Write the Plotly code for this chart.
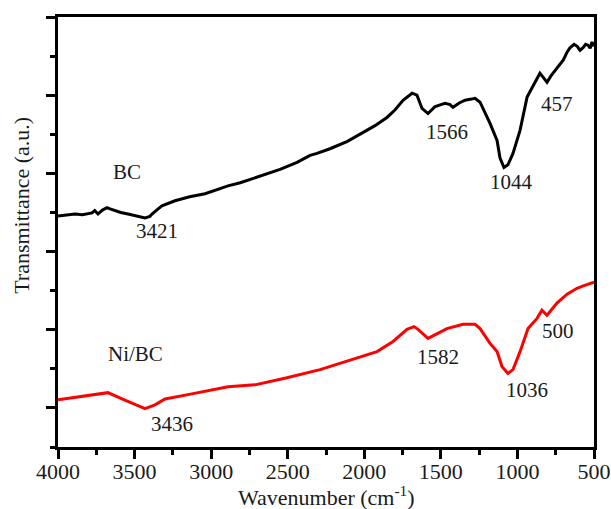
import plotly.graph_objects as go

# ---- data ----
bc_wavenumber = [4000, 3950, 3889, 3840, 3800, 3778, 3760, 3739, 3710, 3680, 3660, 3628, 3590,
                 3543, 3490, 3432, 3400, 3386, 3350, 3321, 3236, 3140, 3040, 2960, 2890, 2810,
                 2733, 2661, 2550, 2439, 2354, 2309, 2224, 2110, 2008, 1930, 1852, 1800, 1747,
                 1700, 1688, 1656, 1623, 1584, 1540, 1500, 1473, 1440, 1421, 1380, 1342, 1300,
                 1277, 1244, 1210, 1179, 1133, 1114, 1088, 1062, 1029, 983, 937, 898, 853, 830,
                 807, 780, 742, 700, 676, 657, 630, 610, 591, 570, 555, 539, 525, 513, 500]
bc_transmittance = [5.91, 5.93, 5.96, 5.94, 5.98, 5.99, 6.05, 5.96, 6.06, 6.12, 6.09, 6.04, 6.00,
                    5.96, 5.92, 5.86, 5.90, 5.96, 6.08, 6.17, 6.30, 6.40, 6.48, 6.58, 6.68, 6.76,
                    6.86, 6.94, 7.10, 7.28, 7.46, 7.51, 7.63, 7.82, 8.05, 8.22, 8.43, 8.62, 8.87,
                    9.01, 9.05, 9.00, 8.66, 8.53, 8.70, 8.76, 8.79, 8.76, 8.69, 8.80, 8.87, 8.90,
                    8.92, 8.82, 8.55, 8.28, 7.84, 7.40, 7.15, 7.22, 7.51, 8.10, 8.95, 9.25, 9.56,
                    9.45, 9.33, 9.50, 9.69, 9.90, 10.10, 10.21, 10.30, 10.25, 10.15, 10.22,
                    10.30, 10.28, 10.20, 10.36, 10.25]

nibc_wavenumber = [4000, 3843, 3674, 3582, 3432, 3367, 3301, 3151, 2975, 2890, 2714, 2505, 2289,
                   2074, 1917, 1812, 1721, 1675, 1649, 1584, 1520, 1460, 1355, 1277, 1244, 1179,
                   1133, 1101, 1062, 1029, 983, 931, 872, 840, 807, 742, 676, 611, 570, 526, 500]
nibc_transmittance = [1.21, 1.29, 1.39, 1.23, 0.98, 1.08, 1.23, 1.34, 1.47, 1.54, 1.59, 1.77, 1.98,
                      2.24, 2.44, 2.70, 3.01, 3.08, 3.01, 2.78, 2.92, 3.03, 3.14, 3.14, 3.03, 2.65,
                      2.44, 2.06, 1.88, 1.98, 2.44, 3.03, 3.29, 3.50, 3.37, 3.68, 3.91, 4.06, 4.12,
                      4.19, 4.22]

series_names = ["BC", "Ni/BC"]
series_colors = ["#000000", "#ff0000"]

peak_labels = ["3421", "1566", "1044", "457", "3436", "1582", "1036", "500"]
peak_label_x = [3354, 1460, 1042, 742, 3256, 1519, 937, 735]
peak_label_y = [5.53, 8.05, 6.79, 8.77, 0.59, 2.31, 1.47, 2.96]

name_label_x = [3549, 3497]
name_label_y = [7.04, 2.37]

x_ticks = [4000, 3500, 3000, 2500, 2000, 1500, 1000, 500]

FONT = "Times New Roman, Liberation Serif, serif"
TXT = "#1a1a1a"

fig = go.Figure()
for xs, ys, name, col in [(bc_wavenumber, bc_transmittance, series_names[0], series_colors[0]),
                          (nibc_wavenumber, nibc_transmittance, series_names[1], series_colors[1])]:
    fig.add_trace(go.Scatter(x=xs, y=ys, mode="lines", name=name,
                             line=dict(color=col, width=3), showlegend=False))

annotations = []
for t, x, y in zip(peak_labels, peak_label_x, peak_label_y):
    annotations.append(dict(text=t, x=x, y=y, xref="x", yref="y", showarrow=False,
                            font=dict(family=FONT, size=21, color=TXT)))
for t, x, y in zip(series_names, name_label_x, name_label_y):
    annotations.append(dict(text=t, x=x, y=y, xref="x", yref="y", showarrow=False,
                            font=dict(family=FONT, size=21, color=TXT)))
annotations.append(dict(text="Transmittance (a.u.)", textangle=-90, x=0, xref="paper",
                        xanchor="center", y=6.17, yref="y", xshift=-36, showarrow=False,
                        font=dict(family=FONT, size=22, color=TXT)))
annotations.append(dict(text="Wavenumber (cm<sup>-1</sup>)", x=0.5, xref="paper",
                        xanchor="center", y=0, yref="paper", yshift=-49, yanchor="middle",
                        showarrow=False, font=dict(family=FONT, size=22, color=TXT)))

fig.update_layout(
    width=611, height=509,
    margin=dict(l=58, r=17, t=17, b=62, autoexpand=False),
    paper_bgcolor="white", plot_bgcolor="white",
    font=dict(family=FONT, size=21, color=TXT),
    annotations=annotations,
    xaxis=dict(range=[4000, 500], tickmode="array", tickvals=x_ticks, automargin=False,
               ticks="outside", ticklen=9, tickwidth=2.5, tickcolor="black",
               ticklabelstandoff=-6,
               minor=dict(tickmode="linear", tick0=250, dtick=500, ticks="outside",
                          ticklen=5, tickwidth=2.5, tickcolor="black"),
               showline=True, linewidth=3, linecolor="black", mirror=True,
               showgrid=False, zeroline=False,
               tickfont=dict(family=FONT, size=22, color=TXT)),
    yaxis=dict(range=[0, 11], tickmode="linear", tick0=1, dtick=2, automargin=False,
               ticks="outside", ticklen=9, tickwidth=2.5, tickcolor="black",
               minor=dict(tickmode="linear", tick0=0, dtick=1, ticks="outside",
                          ticklen=5, tickwidth=2.5, tickcolor="black"),
               showticklabels=False,
               showline=True, linewidth=3, linecolor="black", mirror=True,
               showgrid=False, zeroline=False),
)

fig.write_html("out.html", config={"displayModeBar": False},
               post_script="document.body.style.margin='0px';document.body.style.padding='0px';")
